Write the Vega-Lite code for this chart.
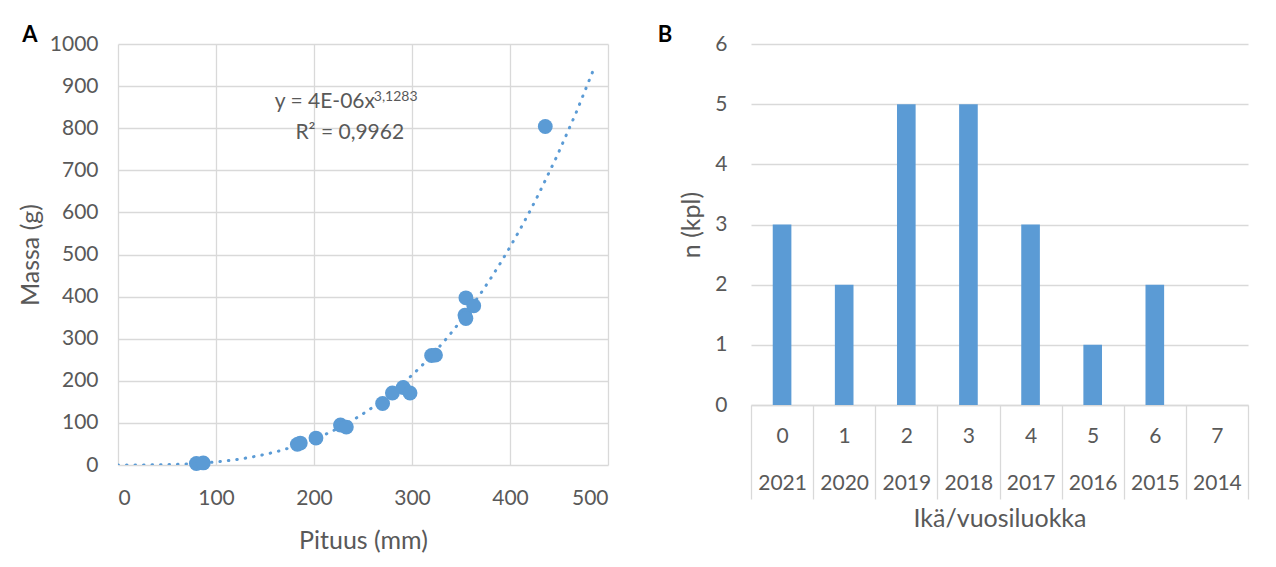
{
  "$schema": "https://vega.github.io/schema/vega-lite/v6.json",
  "background": "white",
  "padding": {"left": 18, "top": 24, "right": 5, "bottom": 5},
  "spacing": 49,
  "datasets": {
    "kalat": [
      {"pituus": 80, "massa": 3.5},
      {"pituus": 87, "massa": 5},
      {"pituus": 183, "massa": 49},
      {"pituus": 186, "massa": 52},
      {"pituus": 202, "massa": 64},
      {"pituus": 227, "massa": 95},
      {"pituus": 233, "massa": 90},
      {"pituus": 270, "massa": 146},
      {"pituus": 280, "massa": 171},
      {"pituus": 291, "massa": 184},
      {"pituus": 298, "massa": 171},
      {"pituus": 320, "massa": 260},
      {"pituus": 324, "massa": 261},
      {"pituus": 355, "massa": 397},
      {"pituus": 363, "massa": 378},
      {"pituus": 354, "massa": 356},
      {"pituus": 355, "massa": 348},
      {"pituus": 436, "massa": 804}
    ],
    "ika": [
      {"luokka": "0|2021", "n": 3},
      {"luokka": "1|2020", "n": 2},
      {"luokka": "2|2019", "n": 5},
      {"luokka": "3|2018", "n": 5},
      {"luokka": "4|2017", "n": 3},
      {"luokka": "5|2016", "n": 1},
      {"luokka": "6|2015", "n": 2},
      {"luokka": "7|2014", "n": 0}
    ]
  },
  "hconcat": [
    {
      "width": 490,
      "height": 421,
      "title": {"text": "A", "anchor": "start", "frame": "bounds", "fontSize": 22, "fontWeight": "bold", "color": "#000000", "font": "Lato", "offset": -14, "dx": 4},
      "layer": [
        {
          "data": {"name": "kalat"},
          "transform": [{"regression": "massa", "on": "pituus", "method": "pow", "extent": [0, 487]}],
          "mark": {"type": "line", "color": "#5B9BD5", "strokeWidth": 3, "strokeDash": [0.5, 8], "strokeCap": "round", "clip": true},
          "encoding": {
            "x": {"field": "pituus", "type": "quantitative", "scale": {"domain": [0, 500], "nice": false},
                  "axis": {"title": "Pituus (mm)", "values": [0, 100, 200, 300, 400, 500], "format": "d", "labelPadding": 22, "titlePadding": 20}},
            "y": {"field": "massa", "type": "quantitative", "scale": {"domain": [0, 1000], "nice": false},
                  "axis": {"title": "Massa (g)", "values": [0, 100, 200, 300, 400, 500, 600, 700, 800, 900, 1000], "format": "d", "labelPadding": 20, "titlePadding": 6}}
          }
        },
        {
          "data": {"name": "kalat"},
          "mark": {"type": "point", "filled": true, "shape": "circle", "size": 220, "opacity": 1, "color": "#5B9BD5"},
          "encoding": {
            "x": {"field": "pituus", "type": "quantitative"},
            "y": {"field": "massa", "type": "quantitative"}
          }
        },
        {
          "data": {"values": [{"teksti": "y = 4E-06x"}]},
          "mark": {"type": "text", "align": "left", "baseline": "alphabetic", "fontSize": 21, "font": "Lato", "color": "#595959"},
          "encoding": {"x": {"datum": 160, "type": "quantitative"}, "y": {"datum": 847, "type": "quantitative"}, "text": {"field": "teksti", "type": "nominal"}}
        },
        {
          "data": {"values": [{"teksti": "3,1283"}]},
          "mark": {"type": "text", "align": "left", "baseline": "alphabetic", "fontSize": 14, "font": "Lato", "color": "#595959"},
          "encoding": {"x": {"datum": 261, "type": "quantitative"}, "y": {"datum": 864, "type": "quantitative"}, "text": {"field": "teksti", "type": "nominal"}}
        },
        {
          "data": {"values": [{"teksti": "R² = 0,9962"}]},
          "mark": {"type": "text", "align": "left", "baseline": "alphabetic", "fontSize": 21, "font": "Lato", "color": "#595959"},
          "encoding": {"x": {"datum": 181, "type": "quantitative"}, "y": {"datum": 774, "type": "quantitative"}, "text": {"field": "teksti", "type": "nominal"}}
        }
      ]
    },
    {
      "width": 497,
      "height": 361,
      "title": {"text": "B", "anchor": "start", "frame": "bounds", "fontSize": 22, "fontWeight": "bold", "color": "#000000", "font": "Lato", "offset": -14, "dx": -22},
      "data": {"name": "ika"},
      "mark": {"type": "bar", "color": "#5B9BD5", "width": {"band": 0.3}},
      "encoding": {
        "x": {"field": "luokka", "type": "ordinal", "sort": null,
              "scale": {"paddingInner": 0, "paddingOuter": 0},
              "axis": {"title": "Ikä/vuosiluokka", "labelAngle": 0, "labelExpr": "split(datum.label, '|')",
                       "domain": true, "domainColor": "#D9D9D9", "domainWidth": 1.3,
                       "ticks": true, "tickBand": "extent", "tickSize": 94, "tickColor": "#D9D9D9", "tickWidth": 1.3,
                       "labelPadding": -74, "labelLineHeight": 47, "titlePadding": 7}},
        "y": {"field": "n", "type": "quantitative", "scale": {"domain": [0, 6], "nice": false},
              "axis": {"title": "n (kpl)", "values": [0, 1, 2, 3, 4, 5, 6], "labelPadding": 24, "titlePadding": 10}}
      }
    }
  ],
  "config": {
    "view": {"stroke": null},
    "font": "Lato",
    "axis": {
      "labelFont": "Lato", "titleFont": "Lato",
      "labelColor": "#595959", "titleColor": "#595959",
      "labelFontSize": 21, "titleFontSize": 25, "titleFontWeight": "normal",
      "grid": true, "gridColor": "#D9D9D9", "gridWidth": 1.3,
      "domain": false, "ticks": false
    },
    "axisX": {"grid": true},
    "axisBand": {"grid": false}
  }
}
